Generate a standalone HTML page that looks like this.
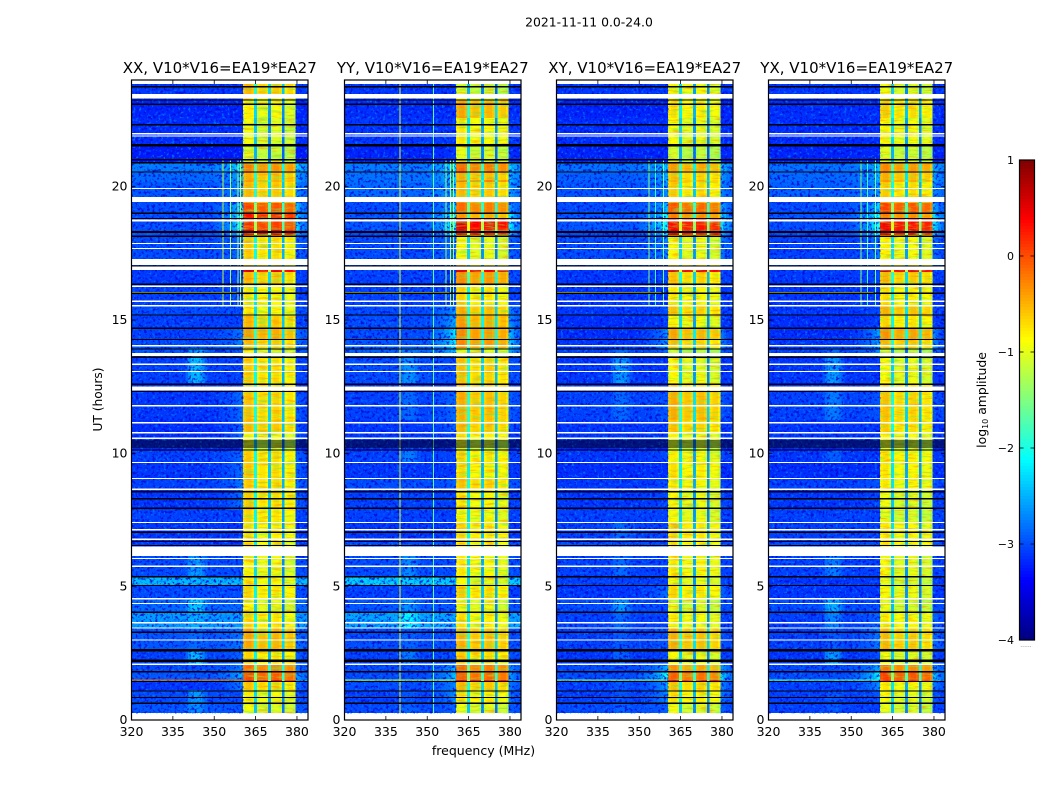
<!DOCTYPE html>
<html lang="en">
<head>
<meta charset="utf-8">
<title>2021-11-11 0.0-24.0</title>
<style>
html,body{margin:0;padding:0;background:#fff;}
svg{display:block;}
text{font-family:"DejaVu Sans","Liberation Sans",sans-serif;fill:#000;}
</style>
</head>
<body>
<svg id="figure" xmlns="http://www.w3.org/2000/svg" width="1050" height="800" viewBox="0 0 1050 800">
<defs>
<filter id="speckle-light" x="0" y="0" width="1" height="1" color-interpolation-filters="sRGB">
<feTurbulence type="fractalNoise" baseFrequency="0.36" numOctaves="2" seed="4"/>
<feColorMatrix type="matrix" values="0 0 0 0 0  0 0 0 0 0.45  0 0 0 0 1  5 0 0 0 -2.85"/>
</filter>
<filter id="speckle-dark" x="0" y="0" width="1" height="1" color-interpolation-filters="sRGB">
<feTurbulence type="fractalNoise" baseFrequency="0.36" numOctaves="2" seed="11"/>
<feColorMatrix type="matrix" values="0 0 0 0 0  0 0 0 0 0.05  0 0 0 0 0.85  5 0 0 0 -2.55"/>
</filter>
<filter id="stripe-warm" x="0" y="0" width="1" height="1" color-interpolation-filters="sRGB">
<feTurbulence type="fractalNoise" baseFrequency="0.07 0.5" numOctaves="2" seed="7"/>
<feColorMatrix type="matrix" values="0 0 0 0 1  0 0 0 0 0.55  0 0 0 0 0  4 0 0 0 -2.05"/>
</filter>
<filter id="stripe-cool" x="0" y="0" width="1" height="1" color-interpolation-filters="sRGB">
<feTurbulence type="fractalNoise" baseFrequency="0.07 0.5" numOctaves="2" seed="19"/>
<feColorMatrix type="matrix" values="0 0 0 0 0.45  0 0 0 0 0.95  0 0 0 0 0.3  4 0 0 0 -2.05"/>
</filter>
</defs>
<text x="589" y="26.5" font-size="12.4" text-anchor="middle">2021-11-11 0.0-24.0</text>
<text x="483.5" y="755" font-size="12.5" text-anchor="middle">frequency (MHz)</text>
<text transform="translate(102,399.5) rotate(-90)" font-size="12.2" text-anchor="middle">UT (hours)</text>
<text transform="translate(986,400) rotate(-90)" font-size="12.4" text-anchor="middle">log<tspan font-size="8" dy="2">10</tspan><tspan dy="-2"> amplitude</tspan></text>
<text x="1026" y="647" font-size="6" text-anchor="middle" style="fill:#777">......</text>
</svg>
<script>
/* Time segments (UT hours, top to bottom) */
const segmentEdges = [23.85,23.47,23.25,22.57,21.52,20.89,20.51,20.25,20.17,19.61,19.39,19.01,18.79,18.37,18.19,17.29,16.87,16.80,16.31,15.56,15.15,14.70,14.29,13.95,13.61,12.64,12.30,11.25,10.80,10.50,10.09,9.67,9.07,8.62,7.87,7.42,6.71,6.15,5.40,5.02,4.57,4.01,3.45,2.62,2.10,1.80,1.50,1.42,1.12,0.64,0.26];

/* In-band (360-380 MHz) log10 amplitude per segment */
const xxBand = [-.5,-.7,-.8,-.9,-1,-.2,-.45,-.35,-.5,-.4,
 .1,.35,.2,.55,-.6,-.6,.6,-.5,-.75,-.75,
 -.5,-.35,-.5,-.9,-.6,-.6,-.55,-.5,-.8,-1,
 -.6,-.6,-.6,-.6,-.65,-.7,-.7,-.8,-.75,-.65,
 -.85,-.65,-.4,-.65,-.1,.05,.5,-.55,-.8,-.9];
const yyBand = [-1,-.8,-.4,-.75,-.95,-.1,-.45,-.15,-.5,-.3,
 -.1,-.35,.55,.5,-.85,-.7,.6,-.25,-.65,-.45,
 -.35,-.25,-.25,-.9,-.55,-.5,-.45,-.5,-.7,-1,
 -.65,-.7,-.55,-.75,-.8,-.65,-.7,-.75,-.85,-.6,
 -.85,-.7,-.45,-.6,-.1,0,.5,-.5,-.7,-.9];
const xyBand = [-.8,-.8,-.7,-.85,-1.05,-.35,-.55,-.45,-.6,-.4,
 0,-.2,.4,.55,-.85,-.7,.6,-.55,-.75,-.55,
 -.8,-.4,-.55,-1.1,-.85,-.6,-.45,-.55,-.8,-1,
 -.8,-.7,-.75,-.85,-.85,-.65,-.7,-.75,-.85,-.65,
 -.95,-.8,-.45,-.85,-.3,-.05,.5,-.55,-.7,-.9];
const yxBand = [-.9,-.8,-.6,-.8,-1,-.25,-.45,-.35,-.6,-.4,
 .1,-.2,.45,.5,-.8,-.7,.6,-.5,-.7,-.45,
 -.65,-.3,-.5,-1.1,-.85,-.6,-.55,-.6,-.8,-1,
 -.7,-.75,-.75,-.9,-.95,-.75,-.7,-.85,-.95,-.85,
 -.95,-.75,-.5,-.9,-.15,.1,.3,-.75,-.85,-.95];

/* Out-of-band background level per segment */
const xxSky = [-3.1,-3.1,-3.2,-3.15,-3.25,-2.75,-2.85,-2.85,-2.95,-3,
 -3,-3,-3,-3,-3,-3,-3.1,-3.1,-3.05,-3,
 -3.05,-3.05,-3,-2.95,-3.05,-3.1,-3.1,-3.15,-3.15,-3.2,
 -3.05,-3.1,-3.05,-3.1,-3.05,-3.1,-3.1,-3,-2.45,-3,
 -2.85,-2.6,-2.95,-3.05,-3,-2.95,-2.5,-3.1,-3,-2.95];
const yySky = [-3.1,-3.1,-3.15,-3.1,-3.2,-2.75,-2.8,-2.8,-2.85,-3,
 -3,-2.95,-2.95,-3,-3,-3,-3.05,-3.05,-3.05,-3,
 -3,-3,-2.95,-2.9,-3,-3.1,-3.05,-3.1,-3.1,-3.2,
 -3.05,-3.1,-3,-3.05,-3.05,-3.1,-3,-3,-2.35,-3.05,
 -2.95,-2.55,-3,-3.05,-3,-3,-2.5,-3,-3.05,-3];
const xySky = [-3.1,-3.1,-3.2,-3.15,-3.2,-2.8,-2.9,-2.9,-2.95,-3,
 -3,-2.95,-2.95,-3,-3,-3,-3.1,-3.1,-3.1,-3.1,
 -3.15,-3.15,-3.1,-3.05,-3.1,-3.1,-3.05,-3.1,-3.1,-3.2,
 -3.1,-3.15,-3.1,-3.1,-3.05,-3.05,-3,-3.05,-3.05,-3.1,
 -3,-3.05,-3.05,-3.1,-3,-3,-2.6,-3.05,-3.05,-3];
const yxSky = [-3.1,-3.1,-3.15,-3.15,-3.2,-2.8,-2.85,-2.85,-2.9,-3,
 -3,-2.95,-3,-3,-3.05,-3,-3.05,-3.1,-3.1,-3.1,
 -3.15,-3.15,-3.1,-3.05,-3.1,-3.1,-3.05,-3.1,-3.1,-3.2,
 -3.1,-3.15,-3.05,-3.1,-3.05,-3.05,-3,-3.05,-3.1,-3.1,
 -3,-3.05,-3.05,-3.1,-3,-3,-2.5,-3.05,-3.05,-3.05];

/* Excess near 340-347 MHz per segment */
const xxBump = [0,0,0,0,0,0,0,0,0,0, 0,0,0,0,0,0,0,0,0,0,
 0,0,0,.4,.6,0,0,0,0,0, 0,0,0,0,0,0,0,.4,0,0, .5,.1,.1,.6,0,0,0,0,.4,.3];
const yyBump = [0,0,0,0,0,0,0,0,0,0, 0,0,0,0,0,0,0,0,0,0,
 0,0,0,.2,.35,0,.2,0,0,0, .3,0,0,0,0,0,0,.3,0,0, .3,.4,.1,.3,0,0,0,0,.1,.1];
const xyBump = [0,0,0,0,0,0,0,0,0,0, 0,0,0,0,0,0,0,0,0,0,
 0,0,0,.2,.5,0,.2,0,0,0, 0,0,0,0,0,.2,0,.2,0,0, .4,.2,.1,.2,0,0,0,.1,.1,.1];
const yxBump = [0,0,0,0,0,0,0,0,0,0, 0,0,0,0,0,0,0,0,0,0,
 0,0,0,.2,.5,0,.3,0,0,0, .2,0,0,0,0,0,0,.3,0,0, .5,.35,.1,.5,0,0,0,0,.1,.1];

/* Excess rising toward the 360 MHz band edge per segment */
const xxShoulder = [0,0,0,0,0,.6,.4,.4,.4,0,
 .8,.9,1,.6,.2,0,0,.1,0,0,
 0,.3,.3,0,0,0,.3,.3,.3,0,
 .2,.3,.3,.3,0,0,0,0,0,0,
 0,0,.2,.2,.3,.5,0,.4,0,0];
const yyShoulder = [0,0,0,0,.1,.6,.5,.5,.4,0,
 .6,1.1,1.1,.8,.2,0,0,.1,0,.4,
 .5,.8,.8,.5,0,0,.2,.2,0,0,
 0,0,.1,0,0,0,0,0,0,0,
 0,0,0,.1,.5,.6,0,.3,.4,.1];
const xyShoulder = [0,0,0,0,0,.5,.4,.4,.3,0,
 .6,.9,1,.7,.3,0,0,.1,0,.1,
 .1,.5,.5,.2,0,0,.1,0,0,0,
 .1,0,.1,.1,0,0,0,0,0,.3,
 0,0,.1,.1,.5,1,0,.5,.4,.1];
const yxShoulder = [0,0,0,0,0,.4,.4,.4,.3,0,
 .7,1,1.1,.8,.3,0,0,.1,0,.1,
 .1,.6,.6,.4,0,0,.1,0,0,0,
 0,0,.1,.1,0,0,0,0,0,0,
 0,.2,.3,.1,.5,.9,0,.4,.1,0];

/* Channel shapes, one entry per channel centred on 320..383 MHz */
const bumpWeight = [0,0,0,0,0,0,0,0,0,0, 0,0,0,0,0,0,0,0,0,0,
 .3,.7,1,1,1,.9,.6,.3,0,0, 0,0,0,0,0,0,0,0,0,0,
 0,0,0,0,0,0,0,0,0,0, 0,0,0,0,0,0,0,0,0,0, 0,0,0,0];
const shoulderWeight = [0,0,0,0,0,0,0,0,0,0, 0,0,0,0,0,0,0,0,0,0,
 0,0,0,0,0,0,0,0,0,0, .05,.1,.15,.2,.25,.3,.4,.5,.6,.8,
 1,0,0,0,0,0,0,0,0,0, 0,0,0,0,0,0,0,0,0,0, .7,.5,.3,.2];
/* Offset of each in-band channel (361-379 MHz) including the gaps at 365, 370, 375 */
const bandProfile = [-.1,-.02,0,-.12,-1.5,-.25,-.15,-.15,-.25,-1.8,-.2,-.1,-.1,-.2,-1.9,-.3,-.2,-.2,-.35];

/* Flagged data, in UT hours */
const whiteBands = [[23.48,23.31],[19.61,19.42],[17.28,17.06],[17.0,16.87],[13.76,13.65],[12.50,12.35],[6.50,6.15]];
const whiteLines = [21.98,21.9,19.93,18.80,18.72,17.87,17.68,16.27,15.70,15.53,14.03,13.34,13.07,11.78,11.15,10.77,10.57,9.66,9.06,8.65,7.41,7.14,6.78,6.06,5.77,4.55,4.37,3.65,3.45,3.0,2.09];
const blackLines = [23.75,23.25,23.09,22.32,21.01,20.90,20.55,19.0,18.81,18.14,17.03,16.34,16.0,15.19,14.69,14.27,13.91,13.6,12.59,12.32,10.46,10.39,10.31,10.24,10.12,8.56,8.30,7.94,7.04,6.69,6.54,5.37,5.04,4.04,3.29,1.81,1.44,1.09,0.84,0.63];
const thickBlackLines = [21.56,18.30,2.62,2.22];

/* Narrow interference: [frequency, UT start, UT end, log10 amplitude] */
const xxVerticalRfi = [[353,15.5,21,-1.2],[355.7,15.5,21,-1.4],[358.5,15.5,21,-1.3],[359.4,15.5,21,-1.3]];
const yyVerticalRfi = [[340,.26,23.85,-1],[352,.26,23.85,-1.7],[356.6,15.5,21,-1.4],[358.2,15.5,21,-1.3],[359.4,15.5,21,-1.3]];
const xyVerticalRfi = [[353.3,15.5,21,-1.5],[355.8,15.5,21,-1.9],[358.6,15.5,21,-1.6]];
const yxVerticalRfi = [[353.3,15.5,21,-1.5],[355.8,15.5,21,-1.9],[358.6,15.5,21,-1.6]];
/* [UT, frequency start, frequency end, log10 amplitude] */
const xxHorizontalRfi = [[16.03,320,358,-1],[1.5,320,360,-.05]];
const yyHorizontalRfi = [[16.03,320,358,-1],[1.5,320,360,-1.3]];
const xyHorizontalRfi = [[16.03,320,358,-.9],[1.5,320,360,-1.5]];
const yxHorizontalRfi = [[16.03,320,358,-.9],[1.5,320,360,-1.8]];

/* Axis tick labels */
const freqTicks = [320,335,350,365,380];
const timeTicks = [0,5,10,15,20];
const colorTicks = [1,0,-1,-2,-3,-4];
const panelTitles = ['XX, V10*V16=EA19*EA27','YY, V10*V16=EA19*EA27','XY, V10*V16=EA19*EA27','YX, V10*V16=EA19*EA27'];
const panelKeys = ['xx','yy','xy','yx'];
const panelBand = [xxBand,yyBand,xyBand,yxBand];
const panelSky = [xxSky,yySky,xySky,yxSky];
const panelBump = [xxBump,yyBump,xyBump,yxBump];
const panelShoulder = [xxShoulder,yyShoulder,xyShoulder,yxShoulder];
const panelVertical = [xxVerticalRfi,yyVerticalRfi,xyVerticalRfi,yxVerticalRfi];
const panelHorizontal = [xxHorizontalRfi,yyHorizontalRfi,xyHorizontalRfi,yxHorizontalRfi];

const NS = 'http://www.w3.org/2000/svg';
const fig = document.getElementById('figure');
const plotLeft = [131.5,344.5,556.5,768.5];
const plotWidth = 176.5, plotTop = 80, plotBottom = 720;
const channelCount = bumpWeight.length;
const yScale = t => plotBottom - t * (plotBottom - plotTop) / 24;
const colorY = v => 160 + (1 - v) * 480 / 5;

function clamp01(v){ return Math.max(0, Math.min(1, v)); }
function jet(level){
  const v = clamp01((level + 4) / 5);
  const r = clamp01(1.5 - Math.abs(4 * v - 3));
  const g = clamp01(1.5 - Math.abs(4 * v - 2));
  const b = clamp01(1.5 - Math.abs(4 * v - 1));
  return 'rgb(' + Math.round(r * 255) + ',' + Math.round(g * 255) + ',' + Math.round(b * 255) + ')';
}
function rect(parent, x, y, w, h, fill){
  const el = document.createElementNS(NS, 'rect');
  el.setAttribute('x', x);
  el.setAttribute('y', y);
  el.setAttribute('width', w);
  el.setAttribute('height', h);
  el.setAttribute('fill', fill);
  parent.appendChild(el);
  return el;
}
function label(parent, x, y, str, size, anchor){
  const el = document.createElementNS(NS, 'text');
  el.setAttribute('x', x);
  el.setAttribute('y', y);
  el.setAttribute('font-size', size);
  el.setAttribute('text-anchor', anchor);
  el.textContent = str;
  parent.appendChild(el);
  return el;
}
function cellLevel(p, seg, ch){
  if (ch >= 41 && ch <= 59) return panelBand[p][seg] + bandProfile[ch - 41];
  return panelSky[p][seg] + bumpWeight[ch] * panelBump[p][seg] + shoulderWeight[ch] * panelShoulder[p][seg];
}

panelTitles.forEach((title, p) => {
  const x0 = plotLeft[p];
  const xScale = f => x0 + (f - 320) * plotWidth / 64;
  const g = document.createElementNS(NS, 'g');
  
  
  fig.appendChild(g);

  const cells = document.createElementNS(NS, 'g');
  
  
  cells.setAttribute('shape-rendering', 'crispEdges');
  g.appendChild(cells);
  for (let s = 0; s < segmentEdges.length - 1; s++) {
    const yTop = yScale(segmentEdges[s]);
    const yBot = yScale(segmentEdges[s + 1]);
    for (let c = 0; c < channelCount; c++) {
      const fStart = Math.max(320, 320 + c - 0.5);
      const fEnd = c === channelCount - 1 ? 384 : 320 + c + 0.5;
      const cell = rect(cells, xScale(fStart), yTop, xScale(fEnd) - xScale(fStart), yBot - yTop, jet(cellLevel(p, s, c)));
      
      
    }
  }

  /* Decorative pixel texture only; cell values come from the arrays above */
  const dataTop = yScale(segmentEdges[0]);
  const dataHeight = yScale(segmentEdges[segmentEdges.length - 1]) - dataTop;
  ['speckle-dark','speckle-light'].forEach(id => {
    [[320,360.5],[379.5,384]].forEach(range => {
      const noise = rect(g, xScale(range[0]), dataTop, xScale(range[1]) - xScale(range[0]), dataHeight, '#000');
      
      
      noise.setAttribute('opacity', '0.9');
      noise.setAttribute('filter', 'url(#' + id + ')');
    });
  });
  ['stripe-warm','stripe-cool'].forEach(id => {
    [[360.5,364.5],[365.5,369.5],[370.5,374.5],[375.5,379.5]].forEach(range => {
      const stripes = rect(g, xScale(range[0]), dataTop, xScale(range[1]) - xScale(range[0]), dataHeight, '#000');
      
      
      stripes.setAttribute('opacity', '0.55');
      stripes.setAttribute('filter', 'url(#' + id + ')');
    });
  });

  panelVertical[p].forEach(d => {
    const el = rect(g, xScale(d[0]), yScale(d[2]), 1, yScale(d[1]) - yScale(d[2]), jet(d[3]));
    
    
    el.setAttribute('shape-rendering', 'crispEdges');
  });
  panelHorizontal[p].forEach(d => {
    const el = rect(g, xScale(d[1]), yScale(d[0]) - 0.6, xScale(d[2]) - xScale(d[1]), 1.3, jet(d[3]));
    
    
    el.setAttribute('shape-rendering', 'crispEdges');
  });

  const xEnd = xScale(384);
  whiteBands.forEach(b => {
    const el = rect(g, x0, yScale(b[0]), plotWidth, yScale(b[1]) - yScale(b[0]), '#fff');
    
    
    el.setAttribute('shape-rendering', 'crispEdges');
  });
  whiteLines.forEach(t => {
    const el = rect(g, x0, yScale(t) - 0.65, plotWidth, 1.3, '#fff');
    
    
    el.setAttribute('shape-rendering', 'crispEdges');
  });
  blackLines.forEach(t => {
    const el = rect(g, x0, yScale(t) - 0.6, plotWidth, 1.2, '#000');
    
    
    el.setAttribute('shape-rendering', 'crispEdges');
  });
  thickBlackLines.forEach(t => {
    const el = rect(g, x0, yScale(t) - 1.2, plotWidth, 2.4, '#000');
    
    
    el.setAttribute('shape-rendering', 'crispEdges');
  });

  const frame = rect(g, x0, plotTop, plotWidth, plotBottom - plotTop, 'none');
  frame.setAttribute('stroke', '#000');
  frame.setAttribute('stroke-width', '1.2');
  
  

  freqTicks.forEach(f => {
    const x = xScale(f);
    const bottom = rect(g, x - 0.4, plotBottom - 4, 0.8, 4, '#000');
    
    
    const top = rect(g, x - 0.4, plotTop, 0.8, 4, '#000');
    
    
    const t = label(g, x, 736, String(f), 12.5, 'middle');
    
    
  });
  timeTicks.forEach(h => {
    const y = yScale(h);
    const left = rect(g, x0, y - 0.4, 4, 0.8, '#000');
    
    
    const right = rect(g, xEnd - 4, y - 0.4, 4, 0.8, '#000');
    
    
    const t = label(g, x0 - 4, y + 4, String(h), 12.5, 'end');
    
    
  });

  const heading = label(g, x0 + plotWidth / 2, 73, title, 15, 'middle');
  
  
});

/* Colorbar */
const cbar = document.createElementNS(NS, 'g');


fig.appendChild(cbar);
const cbarSteps = 160;
for (let i = 0; i < cbarSteps; i++) {
  const level = 1 - (i + 0.5) * 5 / cbarSteps;
  const swatch = rect(cbar, 1019.5, colorY(1 - i * 5 / cbarSteps), 15, 480 / cbarSteps + 0.3, jet(level));
  
  
}
const cbarFrame = rect(cbar, 1019.5, 160, 15, 480, 'none');
cbarFrame.setAttribute('stroke', '#000');
cbarFrame.setAttribute('stroke-width', '1.2');


colorTicks.forEach(v => {
  const y = colorY(v);
  const left = rect(cbar, 1019.5, y - 0.4, 4, 0.8, '#000');
  
  
  const right = rect(cbar, 1030.5, y - 0.4, 4, 0.8, '#000');
  
  
  const t = label(cbar, 1014, y + 4, String(v).replace('-', '\u2212'), 11, 'end');
  
  
});
</script>
</body>
</html>
